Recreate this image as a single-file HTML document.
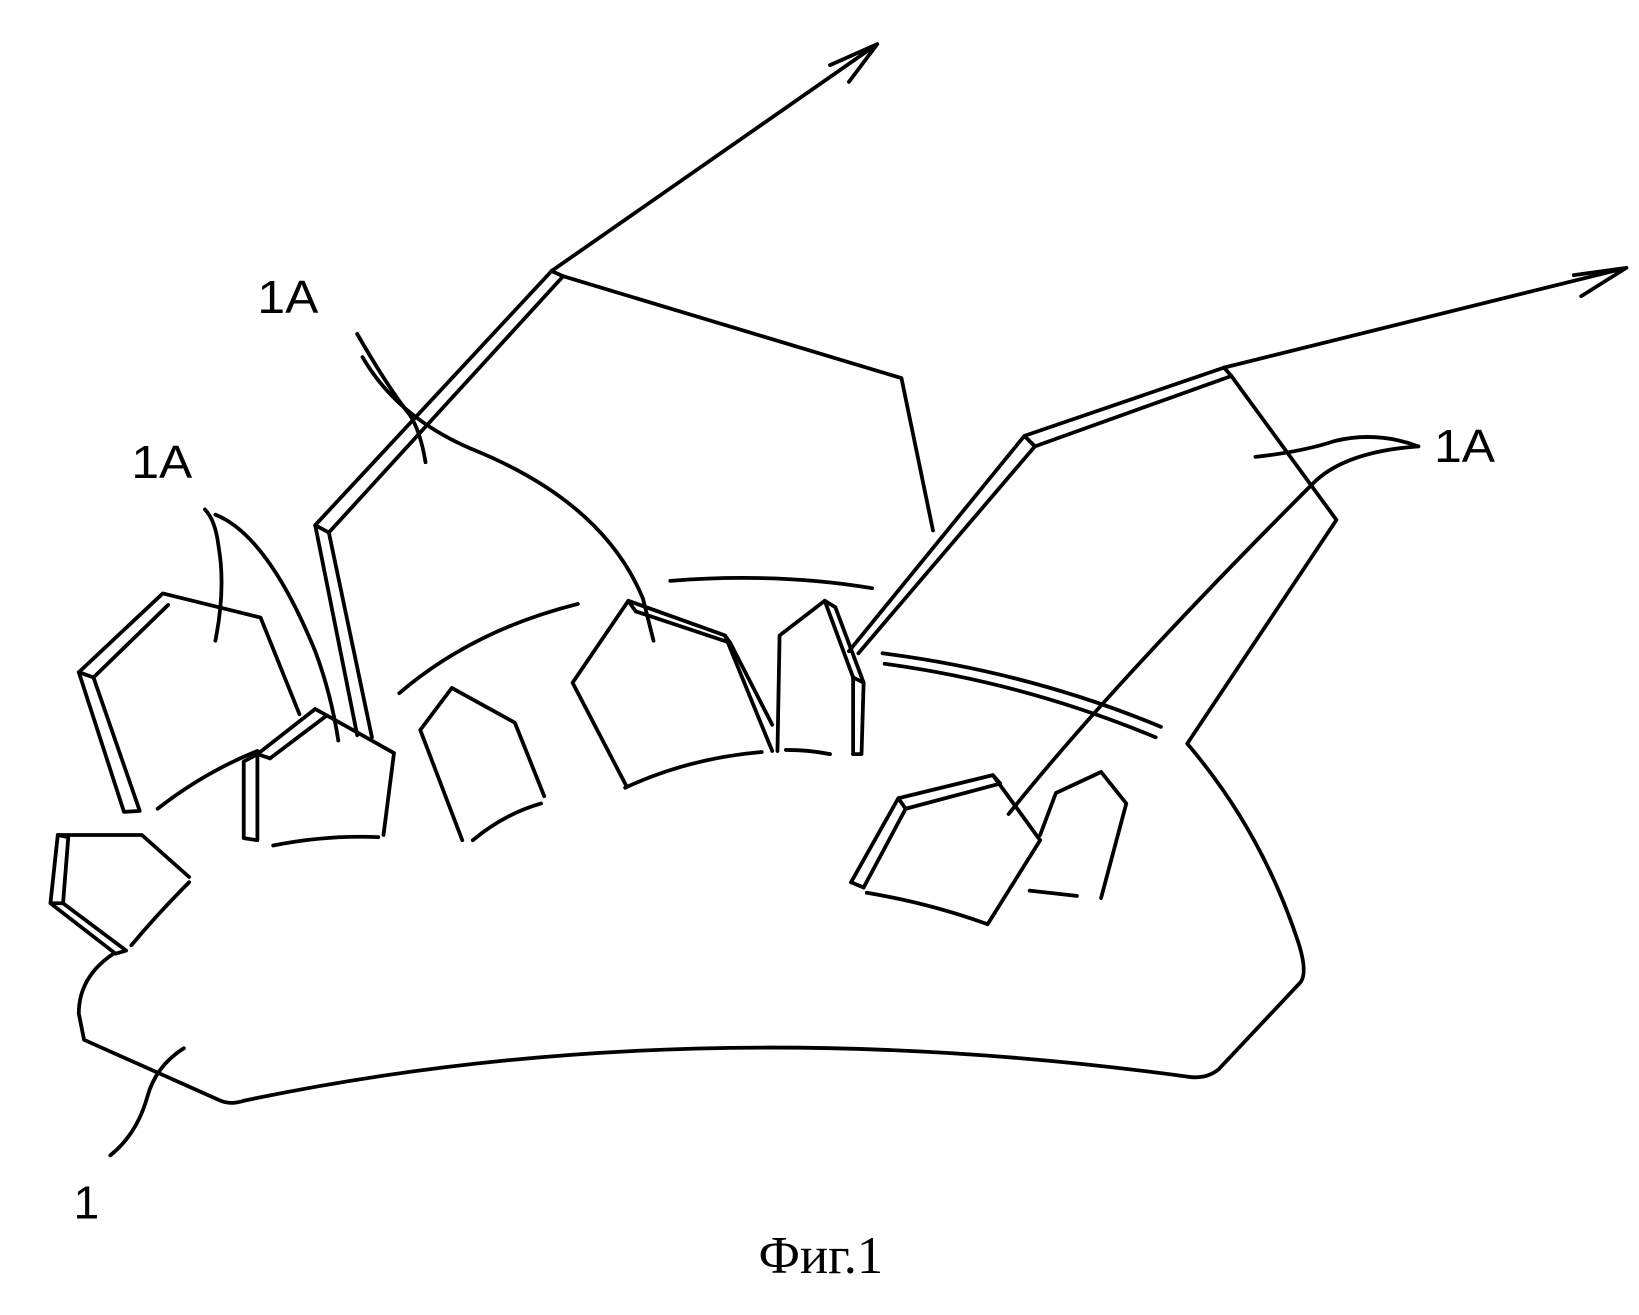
<!DOCTYPE html>
<html><head><meta charset="utf-8"><style>html,body{margin:0;padding:0;background:#fff}svg{display:block}</style></head>
<body>
<svg width="1639" height="1315" viewBox="0 0 1560 1252" preserveAspectRatio="none" xmlns="http://www.w3.org/2000/svg">
<g fill="none" stroke="#000" stroke-width="3.6" stroke-linejoin="round" stroke-linecap="round">
<path d="M108,908 Q75,930 75,965 L80,990 L210,1048 Q220,1052 232,1048 Q650,960 1130,1025 Q1148,1028 1160,1018 L1238,935 Q1245,925 1235,895 Q1200,790 1130,708 L1272,495 L1172,358"/>
<path d="M525,258 L300,500 L340,700"/>
<path d="M536,263 L313,507 L354,702"/>
<path d="M300,500 L313,507 M525,258 L536,263"/>
<path d="M536,263 L858,360 L888,505"/>
<path d="M525,258 L835,42 M790,62 L835,42 L808,78"/>
<path d="M1165,350 L975,415 L808,620"/>
<path d="M1172,358 L985,425 L817,622"/>
<path d="M975,415 L985,425 M1165,350 L1172,358"/>
<path d="M1165,350 L1548,255 M1498,262 L1548,255 L1505,282"/>
<path d="M380,660 Q450,600 550,575"/>
<path d="M638,553 Q740,545 830,560"/>
<path d="M840,622 Q980,640 1105,692"/>
<path d="M842,632 Q975,650 1100,702"/>
<path d="M150,770 Q195,735 245,715"/>
<path d="M260,805 Q310,795 360,797"/>
<path d="M450,800 Q480,775 515,765"/>
<path d="M595,750 Q655,722 725,716"/>
<path d="M748,714 Q770,714 790,718"/>
<path d="M125,900 Q150,870 180,840"/>
<path d="M75,640 L155,565 L248,588 L285,680"/>
<path d="M89,645 L160,576"/>
<path d="M75,640 L118,773 L133,772 L89,645 L75,640"/>
<path d="M245,718 L300,675 L318,685 L375,717 L365,795"/>
<path d="M257,722 L310,682"/>
<path d="M245,718 L232,725 L232,798 L245,800 L245,718 L257,722"/>
<path d="M440,800 L400,695 L430,655 L490,688 L518,758"/>
<path d="M596,748 L545,650 L598,572 L690,605 L735,715"/>
<path d="M605,582 L695,612 L735,690"/>
<path d="M598,572 L605,582 M690,605 L695,612"/>
<path d="M740,715 L742,605 L785,572 L812,645 L812,718"/>
<path d="M785,572 L795,578 L822,650 L820,718 L812,718 M812,645 L822,650"/>
<path d="M55,795 L135,795 L180,835"/>
<path d="M55,795 L48,860 L110,908 L120,905 L60,860 L65,797 L55,795 M48,860 L60,860"/>
<path d="M810,840 L855,760 L945,738 L990,800"/>
<path d="M822,845 L862,770 L952,746"/>
<path d="M855,760 L862,770 M945,738 L952,746"/>
<path d="M810,840 L822,845"/>
<path d="M825,850 Q885,860 940,880 L990,800"/>
<path d="M990,795 L1005,755 L1048,735 L1072,765 L1048,855"/>
<path d="M980,848 L1025,853"/>
<path d="M205,610 Q215,560 208,520 Q205,495 195,485"/>
<path d="M205,490 Q255,510 300,620 Q315,660 322,705"/>
<path d="M405,440 Q400,410 390,395 Q370,370 340,318"/>
<path d="M345,340 Q380,400 455,430 Q575,480 612,570 L622,610"/>
<path d="M1195,435 Q1240,430 1270,420 Q1310,410 1350,425"/>
<path d="M1350,425 Q1280,430 1250,460 Q1060,650 960,775"/>
<path d="M105,1100 Q130,1080 140,1045 Q148,1015 175,998"/>
</g>
<g font-family="Liberation Sans, sans-serif" font-size="44" fill="#000">
<text x="125" y="455" textLength="58" lengthAdjust="spacingAndGlyphs">1A</text>
<text x="245" y="298" textLength="58" lengthAdjust="spacingAndGlyphs">1A</text>
<text x="1365" y="440" textLength="58" lengthAdjust="spacingAndGlyphs">1A</text>
<text x="70" y="1160">1</text>
</g>
<text x="722" y="1212" font-family="Liberation Serif, serif" font-size="50" fill="#000">Фиг.1</text>
</svg>
</body></html>
